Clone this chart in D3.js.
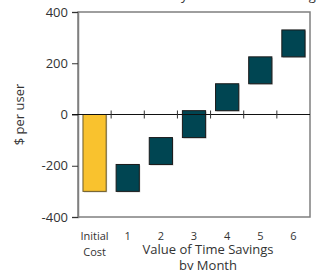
<!DOCTYPE html>
<html>
<head>
<meta charset="utf-8">
<script src="https://cdn.jsdelivr.net/npm/d3@7"></script>
<style>
  body { margin: 0; background: white; }
  text { font-family: "Open Sans", "Noto Sans", sans-serif; fill: #333; }
</style>
</head>
<body>
<script>
var w = 319;
var h = 270;

// data
var categories = ["Initial Cost", "1", "2", "3", "4", "5", "6"];
var initialCost = -300;
var monthlySavings = [105, 105, 105, 105, 105, 105];
var yTicks = [-400, -200, 0, 200, 400];

var svg = d3.select("body").append("svg")
  .attr("width", w)
  .attr("height", h);

var x = d3.scaleBand()
  .domain(categories)
  .range([78, 310])
  .padding(0);

var y = d3.scaleLinear()
  .domain([-400, 400])
  .range([217, 12]);

// build waterfall segments
var bars = [];
bars.push({ cat: categories[0], y0: 0, y1: initialCost, kind: "cost" });
var running = initialCost;
for (var i = 0; i < monthlySavings.length; i++) {
  bars.push({ cat: categories[i + 1], y0: running, y1: running + monthlySavings[i], kind: "month" });
  running += monthlySavings[i];
}

// title, mostly cut off at top
svg.append("text")
  .attr("x", 194)
  .attr("y", 0)
  .attr("text-anchor", "middle")
  .style("font-size", "13px")
  .text("Cumulative Monthly Value of Time Savings");

// plot frame
svg.append("rect")
  .attr("x", 78)
  .attr("y", 12)
  .attr("width", 232)
  .attr("height", 205)
  .attr("fill", "none")
  .attr("stroke", "#7f7f7f")
  .attr("stroke-width", 1.5);

// y axis (plain hyphen for negatives, like the original)
var yAxis = svg.append("g")
  .attr("transform", "translate(78,0)")
  .call(d3.axisLeft(y).tickValues(yTicks).tickSize(6).tickPadding(4)
    .tickFormat(function (d) { return String(d); }));
yAxis.select(".domain").attr("stroke", "#7f7f7f").attr("stroke-width", 1.5);
yAxis.selectAll(".tick line").attr("stroke", "#333");
yAxis.selectAll("text").style("font-size", "13px").attr("fill", "#333");

// bars with a light shadow
var bw = x.bandwidth() * 0.7;
var g = svg.append("g");
g.selectAll("rect.shadow")
  .data(bars)
  .join("rect")
  .attr("class", "shadow")
  .attr("x", function (d) { return x(d.cat) + (x.bandwidth() - bw) / 2 + 1; })
  .attr("y", function (d) { return y(Math.max(d.y0, d.y1)) + 1; })
  .attr("width", bw)
  .attr("height", function (d) { return Math.abs(y(d.y0) - y(d.y1)); })
  .attr("fill", "#c8c8c8");

g.selectAll("rect.bar")
  .data(bars)
  .join("rect")
  .attr("class", "bar")
  .attr("x", function (d) { return x(d.cat) + (x.bandwidth() - bw) / 2; })
  .attr("y", function (d) { return y(Math.max(d.y0, d.y1)); })
  .attr("width", bw)
  .attr("height", function (d) { return Math.abs(y(d.y0) - y(d.y1)); })
  .attr("fill", function (d) { return d.kind == "cost" ? "#f9c22e" : "#004552"; })
  .attr("stroke", function (d) { return d.kind == "cost" ? "#6b5a2a" : "#1a1a1a"; })
  .attr("stroke-width", 1);

// zero line with band boundary ticks
var zero = svg.append("g").attr("transform", "translate(0," + y(0) + ")");
zero.append("line")
  .attr("x1", 72).attr("x2", 310)
  .attr("stroke", "#111").attr("stroke-width", 1);
zero.selectAll("line.tk")
  .data(categories.slice(1))
  .join("line")
  .attr("class", "tk")
  .attr("x1", function (d) { return x(d); })
  .attr("x2", function (d) { return x(d); })
  .attr("y1", -4).attr("y2", 4)
  .attr("stroke", "#333");

// x labels
var lab = svg.append("g");
categories.forEach(function (c) {
  var parts = c.split(" ");
  var t = lab.append("text")
    .attr("x", x(c) + x.bandwidth() / 2)
    .attr("y", 240)
    .attr("text-anchor", "middle")
    .style("font-size", "11px");
  parts.forEach(function (p, j) {
    t.append("tspan")
      .attr("x", x(c) + x.bandwidth() / 2)
      .attr("dy", j == 0 ? 0 : 16)
      .text(p);
  });
});

// x axis title
var xt = svg.append("text")
  .attr("text-anchor", "middle")
  .style("font-size", "13px");
xt.append("tspan").attr("x", 208).attr("y", 254).text("Value of Time Savings");
xt.append("tspan").attr("x", 208).attr("y", 270).text("by Month");

// y axis title
svg.append("text")
  .attr("transform", "translate(24," + y(0) + ") rotate(-90)")
  .attr("text-anchor", "middle")
  .style("font-size", "13px")
  .text("$ per user");
</script>
</body>
</html>
